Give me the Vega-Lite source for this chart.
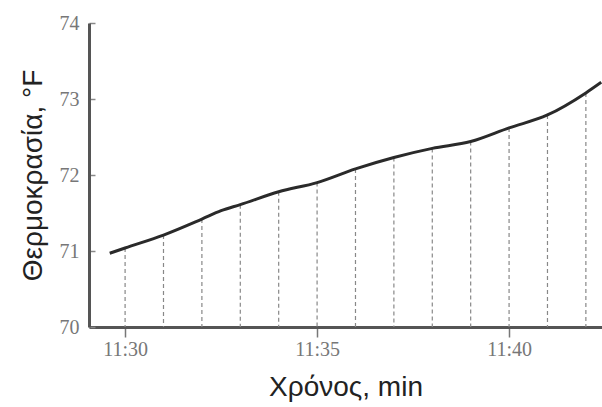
{
  "$schema": "https://vega.github.io/schema/vega-lite/v6.json",
  "width": 513,
  "height": 304,
  "autosize": "none",
  "padding": {"left": 89, "top": 23, "right": 0, "bottom": 80},
  "background": "white",
  "config": {"view": {"stroke": null}},
  "data": {"values": [
    {"t": 29.6, "temp": 70.97},
    {"t": 30, "temp": 71.04},
    {"t": 31, "temp": 71.21},
    {"t": 32, "temp": 71.42},
    {"t": 32.5, "temp": 71.53},
    {"t": 33, "temp": 71.61},
    {"t": 34, "temp": 71.78},
    {"t": 35, "temp": 71.9},
    {"t": 36, "temp": 72.08},
    {"t": 37, "temp": 72.23},
    {"t": 38, "temp": 72.35},
    {"t": 39, "temp": 72.44},
    {"t": 40, "temp": 72.62},
    {"t": 41, "temp": 72.79},
    {"t": 42, "temp": 73.08},
    {"t": 42.4, "temp": 73.22}
  ]},
  "layer": [
    {
      "transform": [{"filter": "datum.t % 1 == 0"}],
      "mark": {"type": "rule", "color": "#888", "strokeDash": [4, 3], "strokeWidth": 1.2},
      "encoding": {
        "x": {"field": "t", "type": "quantitative"},
        "y": {"field": "temp", "type": "quantitative"},
        "y2": {"datum": 70}
      }
    },
    {
      "mark": {"type": "line", "color": "#2a2a2a", "strokeWidth": 3, "interpolate": "monotone"},
      "encoding": {
        "x": {
          "field": "t", "type": "quantitative",
          "scale": {"domain": [29.06, 42.42], "nice": false, "zero": false},
          "axis": {
            "values": [30, 35, 40],
            "labelExpr": "'11:' + datum.value",
            "grid": false,
            "domainColor": "#555", "domainWidth": 3,
            "tickColor": "#777", "tickSize": 10, "tickWidth": 1.5,
            "labelFont": "Liberation Serif", "labelFontSize": 20, "labelColor": "#777", "labelPadding": 2,
            "title": "Χρόνος, min",
            "titleFont": "Liberation Sans", "titleFontSize": 28, "titleFontWeight": "normal", "titleColor": "#222",
            "titlePadding": 14
          }
        },
        "y": {
          "field": "temp", "type": "quantitative",
          "scale": {"domain": [70, 74], "nice": false, "zero": false},
          "axis": {
            "values": [70, 71, 72, 73, 74],
            "format": "d",
            "grid": false,
            "domainColor": "#555", "domainWidth": 3,
            "tickColor": "#888", "tickSize": -6, "tickWidth": 1.5,
            "labelFont": "Liberation Serif", "labelFontSize": 20, "labelColor": "#777", "labelPadding": 16,
            "title": "Θερμοκρασία, °F",
            "titleFont": "Liberation Sans", "titleFontSize": 28, "titleFontWeight": "normal", "titleColor": "#222",
            "titlePadding": 12
          }
        }
      }
    }
  ]
}
